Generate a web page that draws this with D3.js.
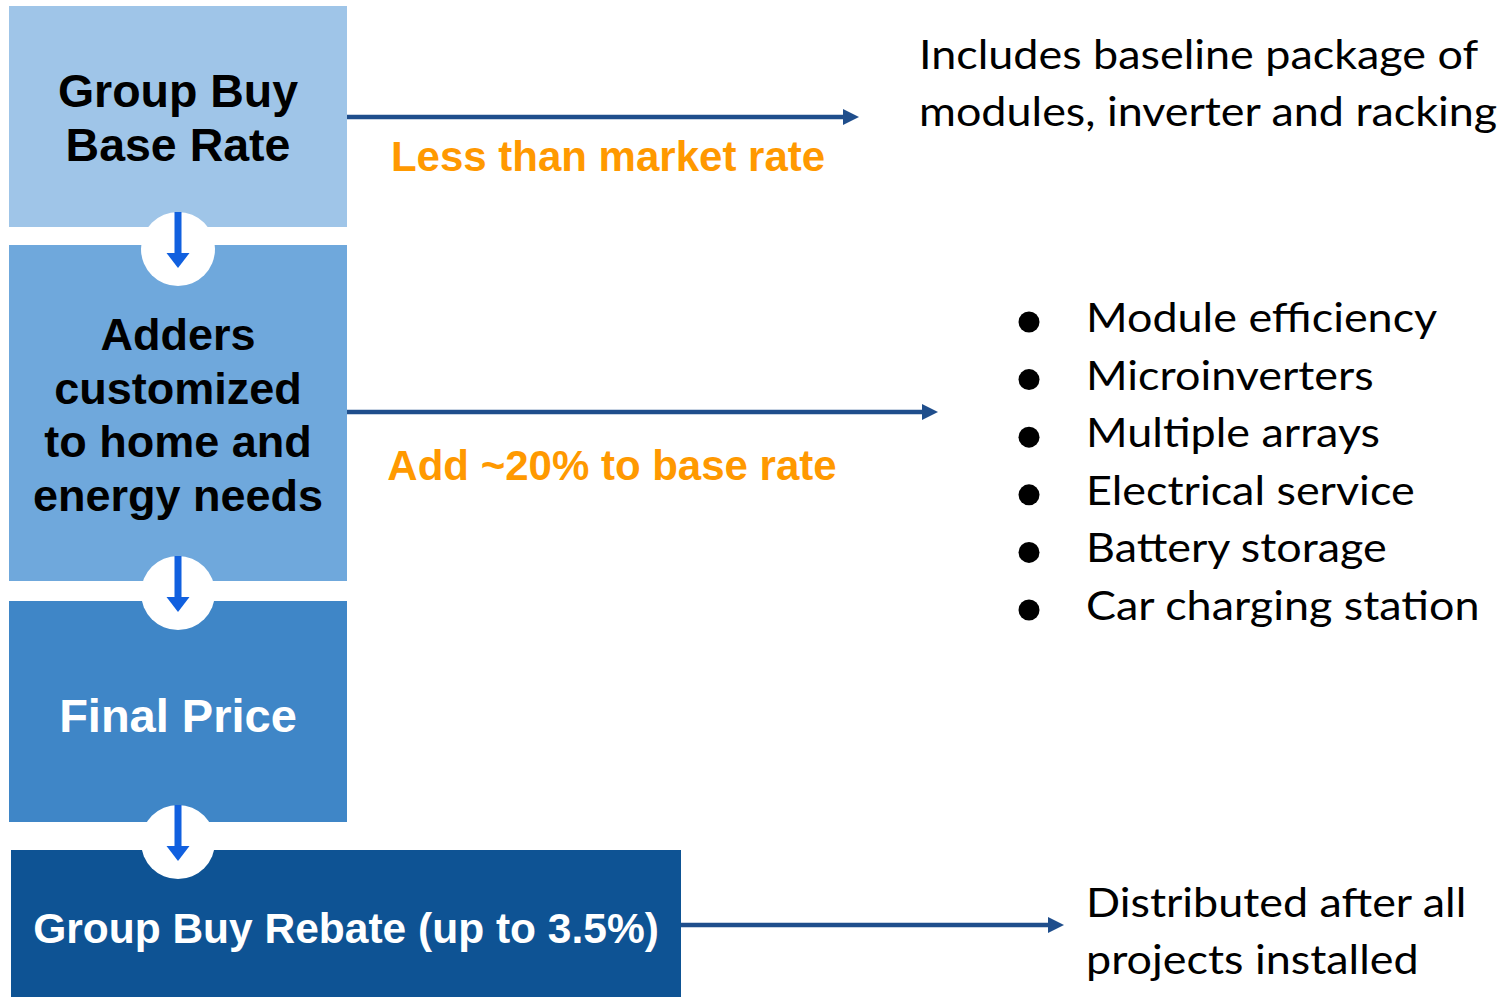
<!DOCTYPE html>
<html>
<head>
<meta charset="utf-8">
<script src="https://cdn.jsdelivr.net/npm/d3@7"></script>
<style>
  html, body { margin: 0; padding: 0; background: #ffffff; }
</style>
</head>
<body>
<svg id="diagram"></svg>
<script>
// labels for the four stacked steps
const stepLabels = [
  ["Group Buy", "Base Rate"],
  ["Adders", "customized", "to home and", "energy needs"],
  ["Final Price"],
  ["Group Buy Rebate (up to 3.5%)"]
];
const stepNotes = ["Less than market rate", "Add ~20% to base rate"];
const baseNote = ["Includes baseline package of", "modules, inverter and racking"];
const adderItems = [
  "Module efficiency",
  "Microinverters",
  "Multiple arrays",
  "Electrical service",
  "Battery storage",
  "Car charging station"
];
const rebateNote = ["Distributed after all", "projects installed"];

const WIDTH = 1508;
const HEIGHT = 998;

const svg = d3.select("#diagram")
  .attr("width", WIDTH)
  .attr("height", HEIGHT);

const BOLD = "'Liberation Sans', Arial, sans-serif";
const PLAIN = "Lato, 'Open Sans', sans-serif";
const PLAIN_SIZE = 41;
const PLAIN_STRETCH = 1.095; // calibri-like text is wider than Lato

// box geometry (top/bottom edges) and styling
const boxes = [
  { x0: 9, x1: 347, y0: 6, y1: 227, fill: "#9fc5e8", text: "#000000", size: 46.5, base: 107, lh: 54 },
  { x0: 9, x1: 347, y0: 245, y1: 581, fill: "#6fa8dc", text: "#000000", size: 45, base: 350, lh: 53.5 },
  { x0: 9, x1: 347, y0: 601, y1: 822, fill: "#3f86c7", text: "#ffffff", size: 47, base: 732, lh: 50 },
  { x0: 11, x1: 681, y0: 850, y1: 997, fill: "#0e5394", text: "#ffffff", size: 42.5, base: 943, lh: 50 }
];

const boxG = svg.append("g");
boxG.selectAll("rect")
  .data(boxes)
  .enter()
  .append("rect")
  .attr("x", d => d.x0)
  .attr("y", d => d.y0)
  .attr("width", d => d.x1 - d.x0)
  .attr("height", d => d.y1 - d.y0)
  .attr("fill", d => d.fill);

boxes.forEach((b, i) => {
  boxG.append("g")
    .selectAll("text")
    .data(stepLabels[i])
    .enter()
    .append("text")
    .attr("x", (b.x0 + b.x1) / 2)
    .attr("y", (d, j) => b.base + j * b.lh)
    .attr("text-anchor", "middle")
    .attr("font-family", BOLD)
    .attr("font-weight", "bold")
    .attr("font-size", b.size)
    .attr("fill", b.text)
    .text(d => d);
});

// white connector circles with blue down arrows
const connectors = [249, 593, 842];
const cg = svg.append("g");
connectors.forEach(cy => {
  const r = 37, cx = 178;
  const top = cy - r, tip = cy + 19, headLen = 15;
  cg.append("circle").attr("cx", cx).attr("cy", cy).attr("r", r).attr("fill", "#ffffff");
  cg.append("rect")
    .attr("x", cx - 3.5).attr("y", top)
    .attr("width", 7).attr("height", tip - headLen - top + 1)
    .attr("fill", "#1160df");
  cg.append("path")
    .attr("d", `M${cx - 11.5},${tip - headLen}L${cx + 11.5},${tip - headLen}L${cx},${tip}Z`)
    .attr("fill", "#1160df");
});

// horizontal connector arrows
const hArrows = [
  { x0: 347, x1: 859, y: 117 },
  { x0: 347, x1: 938, y: 412 },
  { x0: 681, x1: 1064, y: 925 }
];
const ag = svg.append("g");
hArrows.forEach(a => {
  ag.append("line")
    .attr("x1", a.x0).attr("x2", a.x1 - 14)
    .attr("y1", a.y).attr("y2", a.y)
    .attr("stroke", "#1f4e8c")
    .attr("stroke-width", 4.5);
  ag.append("path")
    .attr("d", `M${a.x1 - 16},${a.y - 8}L${a.x1},${a.y}L${a.x1 - 16},${a.y + 8}Z`)
    .attr("fill", "#1f4e8c");
});

// orange callouts below arrows
const noteY = [171, 480];
const noteX = [608, 612];
svg.append("g")
  .selectAll("text")
  .data(stepNotes)
  .enter()
  .append("text")
  .attr("x", (d, i) => noteX[i])
  .attr("y", (d, i) => noteY[i])
  .attr("text-anchor", "middle")
  .attr("font-family", BOLD)
  .attr("font-weight", "bold")
  .attr("font-size", 42)
  .attr("fill", "#ff9900")
  .text(d => d);

// right-hand descriptions
function plainText(sel, x, y) {
  sel.attr("transform", (d, i) => `translate(${x},${y(d, i)}) scale(${PLAIN_STRETCH},1)`)
    .attr("font-family", PLAIN)
    .attr("font-size", PLAIN_SIZE)
    .attr("fill", "#000000")
    .text(d => d);
}

svg.append("g")
  .selectAll("text")
  .data(baseNote)
  .enter()
  .append("text")
  .call(plainText, 919, (d, i) => 69 + i * 57);

svg.append("g")
  .selectAll("text")
  .data(rebateNote)
  .enter()
  .append("text")
  .call(plainText, 1086, (d, i) => 917 + i * 57);

const itemY = d3.scalePoint()
  .domain(adderItems)
  .range([332, 332 + 57.6 * (adderItems.length - 1)]);

const listG = svg.append("g");
listG.selectAll("circle")
  .data(adderItems)
  .enter()
  .append("circle")
  .attr("cx", 1029)
  .attr("cy", d => itemY(d) - 10)
  .attr("r", 10.5)
  .attr("fill", "#000000");

listG.selectAll("text")
  .data(adderItems)
  .enter()
  .append("text")
  .call(plainText, 1086, d => itemY(d));
</script>
</body>
</html>
